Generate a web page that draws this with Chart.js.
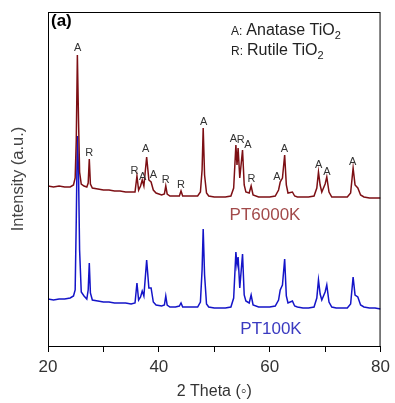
<!DOCTYPE html>
<html>
<head>
<meta charset="utf-8">
<script src="https://cdn.jsdelivr.net/npm/chart.js@4"></script>
<style>
  html, body { margin: 0; padding: 0; background: #fff; }
  #wrap { width: 395px; height: 403px; }
</style>
</head>
<body>
<div id="wrap"><canvas id="xrd"></canvas></div>
<script>
// 2 theta positions (deg)
const twoTheta = [20.0, 21.0, 22.0, 23.0, 24.0, 24.6, 24.9, 25.1, 25.3, 25.5, 25.7, 26.0, 26.5,
  27.0, 27.25, 27.45, 27.65, 28.0, 29.0, 30.0, 31.0, 32.0, 33.0, 34.0, 35.0, 35.7, 36.05, 36.35,
  36.7, 37.0, 37.3, 37.8, 38.2, 38.6, 39.0, 39.5, 40.5, 41.0, 41.25, 41.5, 42.0, 43.0, 43.7, 44.0,
  44.3, 45.0, 46.0, 47.0, 47.5, 47.8, 48.0, 48.25, 48.6, 49.0, 50.0, 51.0, 52.0, 53.0, 53.5, 53.9,
  54.1, 54.3, 54.6, 55.1, 55.4, 55.7, 56.3, 56.65, 57.0, 58.0, 59.0, 60.0, 61.0, 61.6, 61.9, 62.3,
  62.7, 63.0, 63.3, 64.1, 64.5, 65.0, 66.0, 67.0, 68.0, 68.5, 68.8, 69.1, 69.4, 70.0, 70.3, 70.7,
  71.2, 72.0, 73.0, 74.0, 74.6, 75.05, 75.4, 75.9, 76.4, 77.0, 78.0, 79.0, 80.0];

// intensities (a.u., offset stacked)
const pt6000k = [160, 159, 160, 159, 159, 161, 168, 206, 291, 228, 174, 162, 160,
  159, 163, 187, 162, 158, 157, 156, 156, 155, 155, 154, 154, 154, 170, 156,
  160, 166, 160, 189, 166, 164, 156, 153, 151, 152, 160, 152, 150, 150, 150, 155,
  150, 150, 150, 150, 154, 176, 218, 171, 153, 150, 149, 149, 149, 150, 158, 201,
  181, 198, 168, 196, 161, 154, 153, 160, 151, 149, 149, 149, 150, 156, 164, 168,
  191, 161, 153, 154, 150, 149, 149, 149, 150, 158, 174, 161, 154, 162, 169, 154,
  149, 149, 149, 149, 153, 178, 161, 158, 151, 149, 148, 148, 148];

const pt100k = [47, 46, 47, 47, 48, 50, 56, 126, 210, 176, 96, 54, 50,
  47, 56, 83, 53, 46, 45, 44, 44, 43, 43, 43, 42, 43, 63, 46,
  49, 55, 50, 86, 58, 58, 44, 41, 40, 41, 50, 41, 39, 39, 40, 43,
  39, 39, 39, 39, 44, 76, 117, 71, 42, 39, 38, 38, 38, 39, 48, 94,
  81, 89, 58, 92, 51, 45, 43, 51, 41, 39, 39, 39, 40, 46, 56, 61,
  87, 50, 43, 45, 40, 39, 38, 38, 39, 48, 66, 52, 46, 54, 61, 44,
  39, 38, 38, 38, 42, 69, 51, 49, 41, 39, 38, 38, 37];

// peak labels on the upper pattern
const peakAngles = [25.34, 27.42, 35.61, 37.09, 37.63, 39.0, 41.24, 43.98, 48.08, 53.47, 54.77, 56.09, 56.73, 61.3, 62.67, 68.83, 70.33, 74.96];
const peakLetters = ['A', 'R', 'R', 'A', 'A', 'A', 'R', 'R', 'A', 'A', 'R', 'A', 'R', 'A', 'A', 'A', 'A', 'A'];
const peakLabelY = [298, 193, 175, 169, 197, 171, 166, 161, 224, 207, 206, 201, 167, 169, 197, 181, 174, 184];

const xTickLabels = [20, 40, 60, 80];

const FONT = "'Liberation Sans', Arial, sans-serif";

function toPoints(xs, ys) {
  return xs.map((x, i) => ({ x: x, y: ys[i] }));
}

const overlay = {
  id: 'overlay',
  afterDraw(chart) {
    const ctx = chart.ctx;
    const a = chart.chartArea;
    const xs = chart.scales.x;
    const ys = chart.scales.y;
    ctx.save();
    // frame
    ctx.strokeStyle = '#000';
    ctx.lineWidth = 1;
    ctx.strokeRect(a.left + 0.5, a.top + 0.5, a.right - a.left - 1, a.bottom - a.top);

    // panel letter
    ctx.fillStyle = '#000';
    ctx.font = 'bold 17px ' + FONT;
    ctx.textBaseline = 'middle';
    ctx.textAlign = 'left';
    ctx.fillText('(a)', a.left + 3, a.top + 9);

    // peak letters
    ctx.fillStyle = '#333';
    ctx.font = '11px ' + FONT;
    ctx.textAlign = 'center';
    peakAngles.forEach((t, i) => {
      ctx.fillText(peakLetters[i], xs.getPixelForValue(t), ys.getPixelForValue(peakLabelY[i]));
    });

    // phase key
    ctx.fillStyle = '#222';
    ctx.textAlign = 'left';
    ctx.textBaseline = 'alphabetic';
    const keys = [['A:', 'Anatase TiO', 35], ['R:', 'Rutile TiO', 55]];
    keys.forEach(k => {
      let x = 231;
      ctx.font = '12px ' + FONT;
      ctx.fillText(k[0], x, k[2]);
      x += ctx.measureText(k[0]).width + 4;
      ctx.font = '16px ' + FONT;
      ctx.fillText(k[1], x, k[2]);
      x += ctx.measureText(k[1]).width;
      ctx.font = '11px ' + FONT;
      ctx.fillText('2', x, k[2] + 4);
    });

    // sample names
    ctx.textAlign = 'center';
    ctx.textBaseline = 'middle';
    ctx.font = '17px ' + FONT;
    ctx.fillStyle = '#a24a4a';
    ctx.fillText('PT6000K', 265, 215);
    ctx.fillStyle = '#3a3ac0';
    ctx.fillText('PT100K', 271, 329);
    ctx.restore();
  }
};

const ctx = document.getElementById('xrd').getContext('2d');
const myChart = new Chart(ctx, {
  type: 'line',
  data: {
    datasets: [{
      label: 'PT6000K',
      data: toPoints(twoTheta, pt6000k),
      borderColor: '#7d0f14',
      borderWidth: 1.5,
      pointRadius: 0,
      tension: 0
    }, {
      label: 'PT100K',
      data: toPoints(twoTheta, pt100k),
      borderColor: '#1414c8',
      borderWidth: 1.5,
      pointRadius: 0,
      tension: 0
    }]
  },
  options: {
    responsive: true,
    maintainAspectRatio: false,
    animation: false,
    layout: { padding: { top: 12, right: 10, left: 0, bottom: 0 } },
    plugins: {
      legend: { display: false },
      tooltip: { enabled: false }
    },
    scales: {
      x: {
        type: 'linear',
        min: 20,
        max: 80,
        afterFit: (s) => { s.height = 57; },
        border: { display: true, color: '#000', width: 1 },
        grid: { drawOnChartArea: false, drawTicks: true, tickLength: 6, color: '#000' },
        ticks: {
          stepSize: 10,
          autoSkip: false,
          maxRotation: 0,
          padding: 5,
          color: '#333',
          font: { family: FONT, size: 17 },
          callback: (v) => xTickLabels.includes(v) ? String(v) : ''
        },
        title: {
          display: true,
          text: '2 Theta (◦)',
          color: '#333',
          font: { family: FONT, size: 16 },
          padding: { top: 0, bottom: 2 }
        }
      },
      y: {
        min: 0,
        max: 334,
        afterFit: (s) => { s.width = 48; },
        border: { display: true, color: '#000', width: 1 },
        grid: { display: false },
        ticks: { display: false },
        title: {
          display: true,
          text: 'Intensity (a.u.)',
          color: '#444',
          font: { family: FONT, size: 16.5 },
          padding: { top: 9, bottom: 0 }
        }
      }
    }
  },
  plugins: [overlay]
});
</script>
</body>
</html>
